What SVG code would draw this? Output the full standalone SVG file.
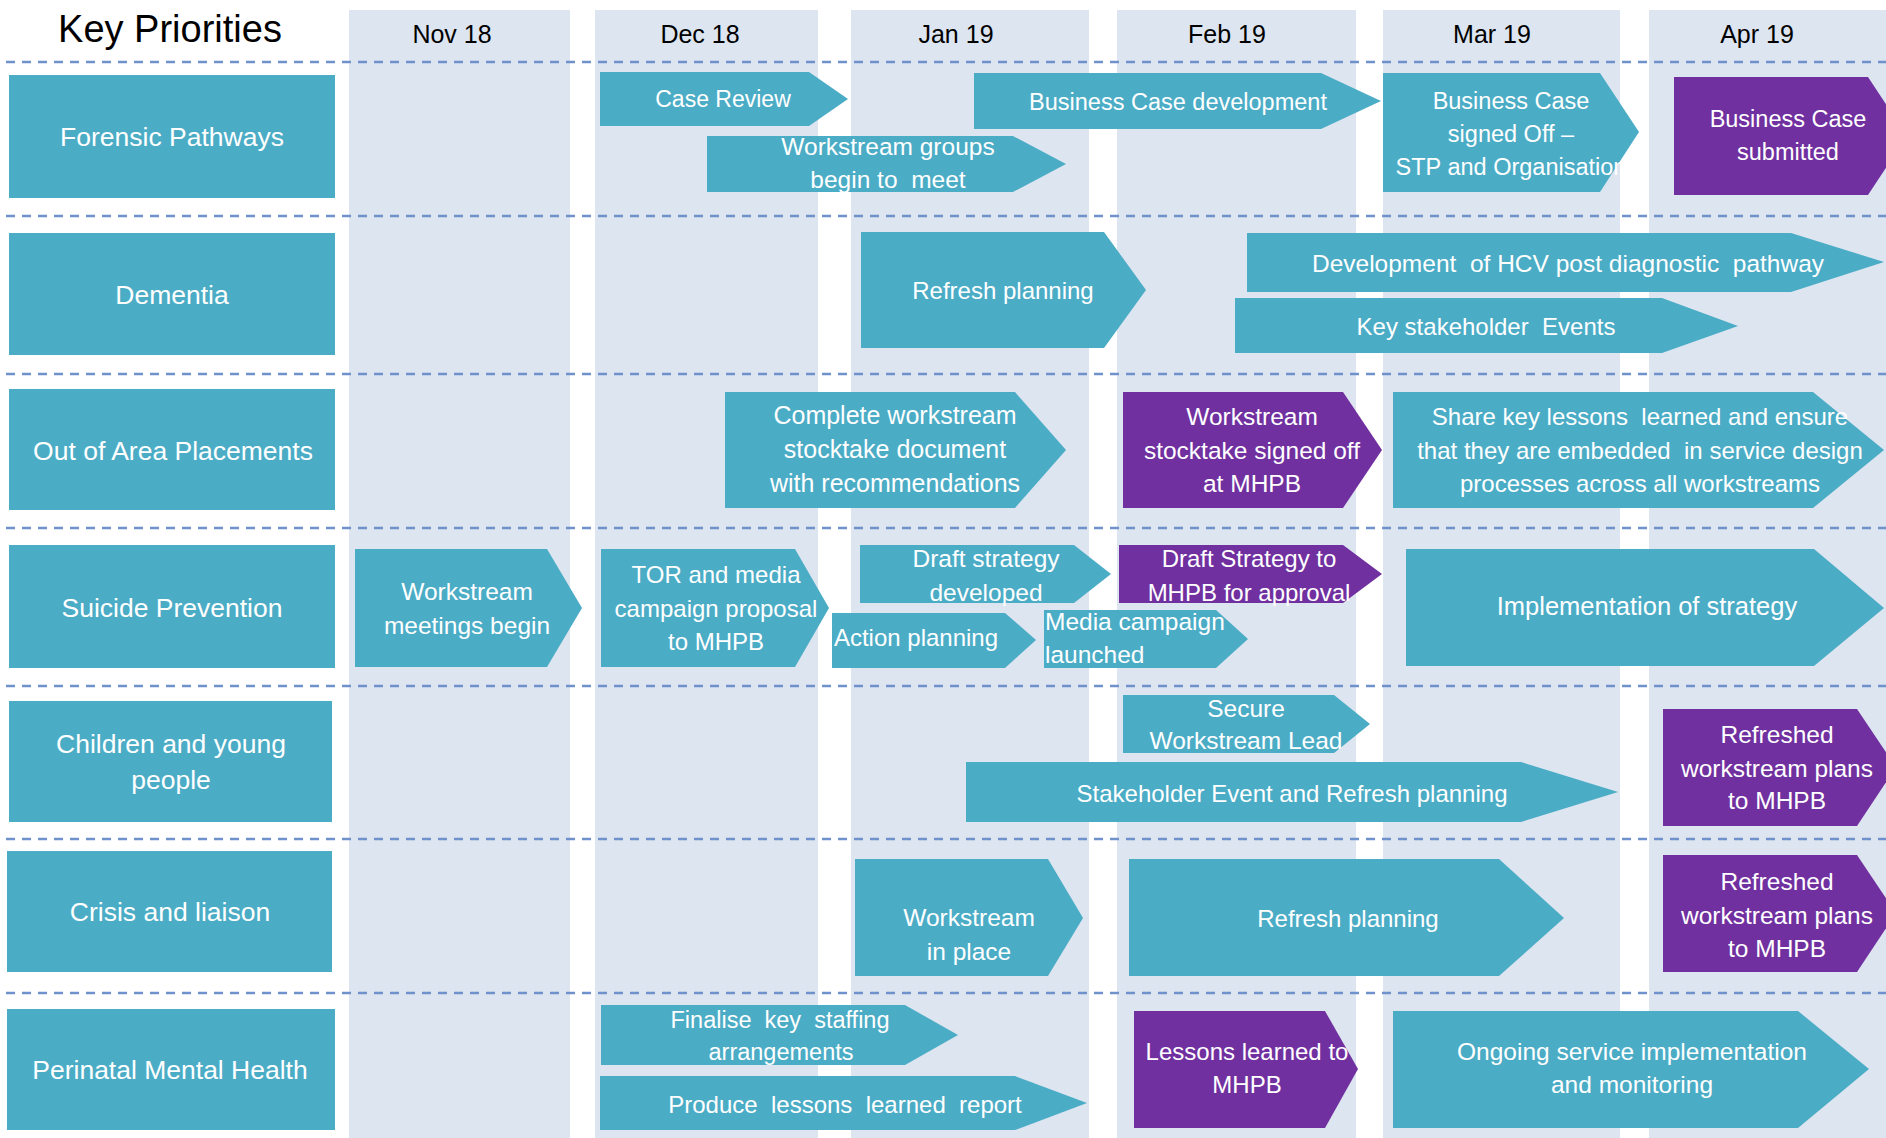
<svg xmlns="http://www.w3.org/2000/svg" width="1886" height="1138" viewBox="0 0 1886 1138">
<style>
.band{fill:#DCE5F0}
.sep{stroke:#7092CC;stroke-width:2.5;stroke-dasharray:9 7;fill:none}
.box{fill:#4BACC6}
.pur{fill:#7030A0}
text{font-family:"Liberation Sans",Arial,sans-serif}
.hdr{fill:#000;text-anchor:middle;font-size:25px}
.t{fill:#fff;text-anchor:middle;font-size:24px}
.lbl{fill:#fff;text-anchor:middle;font-size:26.5px}
</style>
<rect width="1886" height="1138" fill="#fff"/>
<g id="columns">
<rect class="band" x="349" y="10" width="221" height="1128"/>
<rect class="band" x="595" y="10" width="223" height="1128"/>
<rect class="band" x="851" y="10" width="238" height="1128"/>
<rect class="band" x="1117" y="10" width="239" height="1128"/>
<rect class="band" x="1383" y="10" width="237" height="1128"/>
<rect class="band" x="1649" y="10" width="237" height="1128"/>
</g>
<g id="gridlines">
<line class="sep" x1="6" y1="62" x2="1886" y2="62"/>
<line class="sep" x1="6" y1="216" x2="1886" y2="216"/>
<line class="sep" x1="6" y1="374" x2="1886" y2="374"/>
<line class="sep" x1="6" y1="528" x2="1886" y2="528"/>
<line class="sep" x1="6" y1="686" x2="1886" y2="686"/>
<line class="sep" x1="6" y1="839" x2="1886" y2="839"/>
<line class="sep" x1="6" y1="993" x2="1886" y2="993"/>
</g>
<g id="header">
<text x="170" y="42" style="fill:#000;text-anchor:middle;font-size:38px">Key Priorities</text>
<text class="hdr" x="452" y="43">Nov 18</text>
<text class="hdr" x="700" y="43">Dec 18</text>
<text class="hdr" x="956" y="43">Jan 19</text>
<text class="hdr" x="1227" y="43">Feb 19</text>
<text class="hdr" x="1492" y="43">Mar 19</text>
<text class="hdr" x="1757" y="43">Apr 19</text>
</g>
<g id="priority-forensic"><rect class="box" x="9" y="75" width="326" height="123"/><text class="lbl" x="172" y="146">Forensic Pathways</text></g>
<g id="priority-dementia"><rect class="box" x="9" y="233" width="326" height="122"/><text class="lbl" x="172" y="304">Dementia</text></g>
<g id="priority-ooa"><rect class="box" x="9" y="389" width="326" height="121"/><text class="lbl" x="173" y="460">Out of Area Placements</text></g>
<g id="priority-suicide"><rect class="box" x="9" y="545" width="326" height="123"/><text class="lbl" x="172" y="617">Suicide Prevention</text></g>
<g id="priority-cyp"><rect class="box" x="9" y="701" width="323" height="121"/><text class="lbl" x="171" y="753">Children and young</text><text class="lbl" x="171" y="789">people</text></g>
<g id="priority-crisis"><rect class="box" x="7" y="851" width="325" height="121"/><text class="lbl" x="170" y="921">Crisis and liaison</text></g>
<g id="priority-perinatal"><rect class="box" x="7" y="1009" width="328" height="121"/><text class="lbl" x="170" y="1079">Perinatal Mental Health</text></g>

<g id="fp-case-review"><polygon class="box" points="600,72 809,72 848,99 809,126 600,126"/><text class="t" x="723" y="107" style="font-size:23px">Case Review</text></g>
<g id="fp-workstream-groups"><polygon class="box" points="707,136 1013,136 1066,164 1013,192 707,192"/><text class="t" x="888" y="155" style="font-size:24.5px">Workstream groups</text><text class="t" x="888" y="188" style="font-size:24.5px" xml:space="preserve">begin to  meet</text></g>
<g id="fp-bc-development"><polygon class="box" points="974,73 1321,73 1381,101 1321,129 974,129"/><text class="t" x="1178" y="110" style="font-size:23.5px">Business Case development</text></g>
<g id="fp-bc-signed"><polygon class="box" points="1383,73 1600,73 1639,132 1600,192 1383,192"/><text class="t" x="1511" y="109" style="font-size:23.5px">Business Case</text><text class="t" x="1511" y="142" style="font-size:23.5px">signed Off –</text><text class="t" x="1511" y="175" style="font-size:23.5px">STP and Organisation</text></g>
<g id="fp-bc-submitted"><polygon class="pur" points="1674,77 1868,77 1907,136 1868,195 1674,195"/><text class="t" x="1788" y="127" style="font-size:23.5px">Business Case</text><text class="t" x="1788" y="160" style="font-size:23.5px">submitted</text></g>

<g id="dem-refresh"><polygon class="box" points="861,232 1104,232 1146,290 1104,348 861,348"/><text class="t" x="1003" y="299">Refresh planning</text></g>
<g id="dem-hcv"><polygon class="box" points="1247,233 1791,233 1884,262 1791,292 1247,292"/><text class="t" x="1568" y="272" style="font-size:24.5px" xml:space="preserve">Development  of HCV post diagnostic  pathway</text></g>
<g id="dem-events"><polygon class="box" points="1235,298 1662,298 1738,326 1662,353 1235,353"/><text class="t" x="1486" y="335" xml:space="preserve">Key stakeholder  Events</text></g>

<g id="ooa-stocktake"><polygon class="box" points="725,392 1015,392 1066,450 1015,508 725,508"/><text class="t" x="895" y="424" style="font-size:25px">Complete workstream</text><text class="t" x="895" y="458" style="font-size:25px">stocktake document</text><text class="t" x="895" y="492" style="font-size:25px">with recommendations</text></g>
<g id="ooa-signed"><polygon class="pur" points="1123,392 1343,392 1382,450 1343,508 1123,508"/><text class="t" x="1252" y="425" style="font-size:24.5px">Workstream</text><text class="t" x="1252" y="459" style="font-size:24.5px">stocktake signed off</text><text class="t" x="1252" y="492" style="font-size:24.5px">at MHPB</text></g>
<g id="ooa-share"><polygon class="box" points="1393,392 1813,392 1884,450 1813,508 1393,508"/><text class="t" x="1640" y="425" xml:space="preserve">Share key lessons  learned and ensure</text><text class="t" x="1640" y="459" xml:space="preserve">that they are embedded  in service design</text><text class="t" x="1640" y="492">processes across all workstreams</text></g>

<g id="sp-meetings"><polygon class="box" points="355,549 547,549 582,608 547,667 355,667"/><text class="t" x="467" y="600" style="font-size:24.5px">Workstream</text><text class="t" x="467" y="634" style="font-size:24.5px">meetings begin</text></g>
<g id="sp-tor"><polygon class="box" points="601,549 795,549 829,608 795,667 601,667"/><text class="t" x="716" y="583">TOR and media</text><text class="t" x="716" y="617">campaign proposal</text><text class="t" x="716" y="650">to MHPB</text></g>
<g id="sp-draft"><polygon class="box" points="860,545 1074,545 1111,574 1074,603 860,603"/><text class="t" x="986" y="567" style="font-size:24.5px">Draft strategy</text><text class="t" x="986" y="601" style="font-size:24.5px">developed</text></g>
<g id="sp-draft-approval"><polygon class="pur" points="1119,545 1343,545 1382,574 1343,603 1119,603"/><text class="t" x="1249" y="567">Draft Strategy to</text><text class="t" x="1249" y="601">MHPB for approval</text></g>
<g id="sp-action"><polygon class="box" points="832,613 1005,613 1036,640 1005,668 832,668"/><text class="t" x="916" y="646">Action planning</text></g>
<g id="sp-media"><polygon class="box" points="1044,610 1216,610 1248,639 1216,668 1044,668"/><text class="t" x="1045" y="630" style="font-size:24.5px;text-anchor:start">Media campaign</text><text class="t" x="1045" y="663" style="font-size:24.5px;text-anchor:start">launched</text></g>
<g id="sp-implementation"><polygon class="box" points="1406,549 1814,549 1884,608 1814,666 1406,666"/><text class="t" x="1647" y="615" style="font-size:25.5px">Implementation of strategy</text></g>

<g id="cyp-lead"><polygon class="box" points="1123,695 1334,695 1370,724 1334,753 1123,753"/><text class="t" x="1246" y="717" style="font-size:24.5px">Secure</text><text class="t" x="1246" y="749" style="font-size:24.5px">Workstream Lead</text></g>
<g id="cyp-stakeholder"><polygon class="box" points="966,762 1521,762 1618,792 1521,822 966,822"/><text class="t" x="1292" y="802">Stakeholder Event and Refresh planning</text></g>
<g id="cyp-refreshed"><polygon class="pur" points="1663,709 1857,709 1896,767 1857,826 1663,826"/><text class="t" x="1777" y="743" style="font-size:24.5px">Refreshed</text><text class="t" x="1777" y="777" style="font-size:24.5px">workstream plans</text><text class="t" x="1777" y="809" style="font-size:24.5px">to MHPB</text></g>

<g id="cl-in-place"><polygon class="box" points="855,859 1048,859 1083,918 1048,976 855,976"/><text class="t" x="969" y="926" style="font-size:24.5px">Workstream</text><text class="t" x="969" y="960" style="font-size:24.5px">in place</text></g>
<g id="cl-refresh"><polygon class="box" points="1129,859 1499,859 1564,918 1499,976 1129,976"/><text class="t" x="1348" y="927">Refresh planning</text></g>
<g id="cl-refreshed"><polygon class="pur" points="1663,855 1857,855 1896,913 1857,972 1663,972"/><text class="t" x="1777" y="890" style="font-size:24.5px">Refreshed</text><text class="t" x="1777" y="924" style="font-size:24.5px">workstream plans</text><text class="t" x="1777" y="957" style="font-size:24.5px">to MHPB</text></g>

<g id="pmh-staffing"><polygon class="box" points="601,1005 905,1005 958,1035 905,1065 601,1065"/><text class="t" x="780" y="1028" style="font-size:23.5px" xml:space="preserve">Finalise  key  staffing</text><text class="t" x="781" y="1060" style="font-size:23.5px">arrangements</text></g>
<g id="pmh-report"><polygon class="box" points="600,1076 1015,1076 1087,1103 1015,1130 600,1130"/><text class="t" x="845" y="1113" xml:space="preserve">Produce  lessons  learned  report</text></g>
<g id="pmh-lessons"><polygon class="pur" points="1134,1011 1325,1011 1358,1069 1325,1128 1134,1128"/><text class="t" x="1247" y="1060">Lessons learned to</text><text class="t" x="1247" y="1093">MHPB</text></g>
<g id="pmh-ongoing"><polygon class="box" points="1393,1011 1798,1011 1869,1069 1798,1128 1393,1128"/><text class="t" x="1632" y="1060" style="font-size:24.5px">Ongoing service implementation</text><text class="t" x="1632" y="1093" style="font-size:24.5px">and monitoring</text></g>
</svg>
